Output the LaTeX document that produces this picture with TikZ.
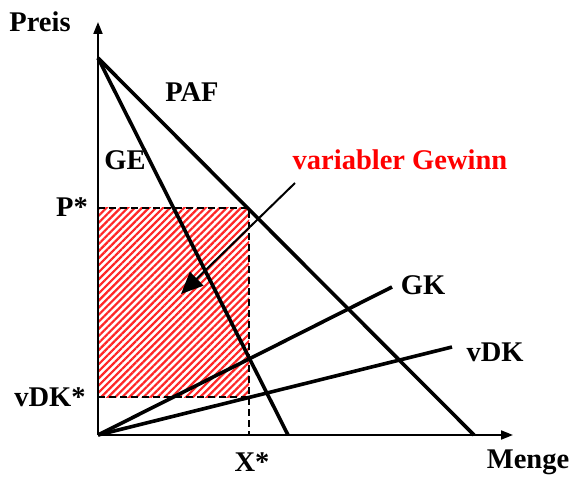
\documentclass[tikz,border=0pt]{standalone}
\usepackage{fontspec}
\setmainfont{Liberation Serif}
\usetikzlibrary{arrows.meta,patterns.meta}

\begin{document}
\begin{tikzpicture}[
    x=1pt, y=1pt,
    axis/.style={line width=2pt, -{Triangle[length=12pt,width=9pt]}},
    curve/.style={line width=3.6pt},
    guide/.style={line width=1.6pt, dash pattern=on 7pt off 4pt},
    lbl/.style={font=\bfseries\fontsize{28.5}{30}\selectfont, inner sep=0pt},
    pointer/.style={line width=2pt, -{Triangle[length=22pt,width=19pt]}},
]
\useasboundingbox (-98,-42) rectangle (472,435);

% origin at the corner of the axes
\coordinate (O)    at (0,0);
\coordinate (Ytip) at (0,413);
\coordinate (Xtip) at (415,0);
\coordinate (A)    at (0,377);
\coordinate (PAFx) at (376,0);
\coordinate (GEx)  at (190,0);
\coordinate (GKe)  at (294,148);
\coordinate (vDKe) at (354,88);
\coordinate (Pst)  at (0,227);
\coordinate (Dst)  at (0,38);
\coordinate (Xst)  at (151,0);
\coordinate (Q)    at (151,227);
\coordinate (R)    at (151,38);

% area of the variable profit
\fill[pattern={Lines[angle=45,distance=5pt,line width=2.2pt]}, pattern color=red!85]
    (Dst) rectangle (Q);

\draw[guide] (Pst) -- (Q) -- (Xst);
\draw[guide] (Dst) -- (R);

\draw[axis] (O) -- (Ytip);
\draw[axis] (O) -- (Xtip);

\draw[curve] (A) -- (PAFx);
\draw[curve] (A) -- (GEx);
\draw[curve] (O) -- (GKe);
\draw[curve] (O) -- (vDKe);

\node[lbl] (preis) at (-58,413) {Preis};
\node[lbl] (menge) at (430,-27) {Menge};
\node[lbl] (paf)   at (94,343)  {PAF};
\node[lbl] (ge)    at (27,275)  {GE};
\node[lbl] (gk)    at (325,150) {GK};
\node[lbl] (vdk)   at (397,83)  {vDK};
\node[lbl] (pst)   at (-26,228) {P*};
\node[lbl] (dst)   at (-48,38)  {vDK*};
\node[lbl] (xst)   at (154,-27) {X*};
\node[lbl, text=red] (gewinn) at (302,275) {variabler Gewinn};

\coordinate (tip) at (83,141);
\coordinate (tail) at (197,252);
\draw[pointer] (tail) -- (tip);

\end{tikzpicture}
\end{document}
